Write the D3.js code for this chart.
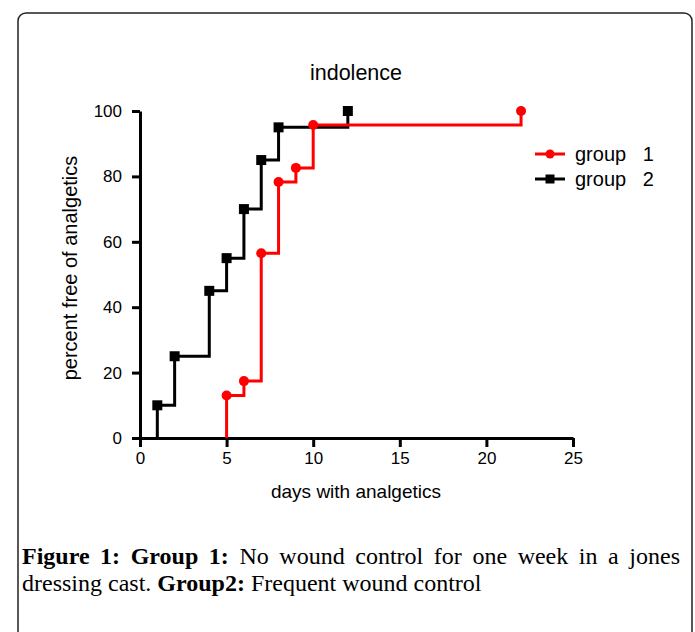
<!DOCTYPE html>
<html>
<head>
<meta charset="utf-8">
<script src="https://cdn.jsdelivr.net/npm/d3@7"></script>
<style>
  body { margin: 0; background: #fff; }
  svg { display: block; }
</style>
</head>
<body>
<script>
var width = 695;
var height = 632;

// days / percent free of analgetics
var group1Days = [5, 6, 7, 8, 9, 10, 22];
var group1Pct = [13, 17.4, 56.5, 78.3, 82.6, 95.7, 100];
var group2Days = [1, 2, 4, 5, 6, 7, 8, 12];
var group2Pct = [10, 25, 45, 55, 70, 85, 95, 100];
var xTicks = [0, 5, 10, 15, 20, 25];
var yTicks = [0, 20, 40, 60, 80, 100];
var legendLabels = ['group   1', 'group   2'];

var svg = d3.select('body')
            .append('svg')
            .attr('width', width)
            .attr('height', height);

// frame
svg.append('rect')
    .attr('x', 18).attr('y', 13)
    .attr('width', 674).attr('height', 640)
    .attr('rx', 8)
    .attr('fill', 'none')
    .attr('stroke', '#222')
    .attr('stroke-width', 1.5);

var xScale = d3.scaleLinear().domain([0, 25]).range([140, 573]);
var yScale = d3.scaleLinear().domain([0, 100]).range([438, 111]);

var font = "'Liberation Sans', Arial, sans-serif";

svg.append('text')
    .attr('x', 356).attr('y', 80)
    .attr('text-anchor', 'middle')
    .style('font-family', font)
    .style('font-size', '21.5px')
    .text('indolence');

var yAxis = svg.append('g')
    .attr('transform', 'translate(' + xScale(0) + ',0)')
    .call(d3.axisLeft(yScale).tickValues(yTicks).tickSize(8).tickSizeOuter(0).tickPadding(10));

var xAxis = svg.append('g')
    .attr('transform', 'translate(0,' + yScale(0) + ')')
    .call(d3.axisBottom(xScale).tickValues(xTicks).tickSize(9).tickSizeOuter(0).tickPadding(5));

[xAxis, yAxis].forEach(function (g) {
  g.selectAll('path, line').attr('stroke', '#000').attr('stroke-width', 3);
  g.selectAll('text').style('font-family', font).style('font-size', '17px').attr('fill', '#000');
});

svg.append('text')
    .attr('x', 356).attr('y', 498)
    .attr('text-anchor', 'middle')
    .style('font-family', font)
    .style('font-size', '19px')
    .text('days with analgetics');

svg.append('text')
    .attr('transform', 'translate(77,' + 268 + ') rotate(-90)')
    .attr('text-anchor', 'middle')
    .style('font-family', font)
    .style('font-size', '20px')
    .text('percent free of analgetics');

function stepPoints(days, pct) {
  var pts = [[days[0], 0]];
  days.forEach(function (d, i) { pts.push([d, pct[i]]); });
  return pts;
}

var line = d3.line()
    .x(function (d) { return xScale(d[0]); })
    .y(function (d) { return yScale(d[1]); })
    .curve(d3.curveStepAfter);

var series = [
  { days: group2Days, pct: group2Pct, color: '#000', shape: 'square' },
  { days: group1Days, pct: group1Pct, color: '#ff0000', shape: 'circle' }
];

series.forEach(function (s) {
  svg.append('path')
      .attr('d', line(stepPoints(s.days, s.pct)))
      .attr('fill', 'none')
      .attr('stroke', s.color)
      .attr('stroke-width', 3);

  var pts = s.days.map(function (d, i) { return [d, s.pct[i]]; });
  if (s.shape === 'square') {
    svg.selectAll(null).data(pts).enter().append('rect')
        .attr('x', function (d) { return xScale(d[0]) - 5; })
        .attr('y', function (d) { return yScale(d[1]) - 5; })
        .attr('width', 10).attr('height', 10)
        .attr('fill', s.color);
  } else {
    svg.selectAll(null).data(pts).enter().append('circle')
        .attr('cx', function (d) { return xScale(d[0]); })
        .attr('cy', function (d) { return yScale(d[1]); })
        .attr('r', 5)
        .attr('fill', s.color);
  }
});

// legend
var legend = [
  { label: legendLabels[0], color: '#ff0000', shape: 'circle', y: 154 },
  { label: legendLabels[1], color: '#000', shape: 'square', y: 179 }
];
legend.forEach(function (l) {
  svg.append('line')
      .attr('x1', 535).attr('x2', 565)
      .attr('y1', l.y).attr('y2', l.y)
      .attr('stroke', l.color).attr('stroke-width', 3);
  if (l.shape === 'circle') {
    svg.append('circle').attr('cx', 550).attr('cy', l.y).attr('r', 4.5).attr('fill', l.color);
  } else {
    svg.append('rect').attr('x', 545.5).attr('y', l.y - 4.5).attr('width', 9).attr('height', 9).attr('fill', l.color);
  }
  svg.append('text')
      .attr('x', 575).attr('y', l.y + 7)
      .style('font-family', font)
      .style('font-size', '20px')
      .attr('xml:space', 'preserve')
      .text(l.label);
});

// caption, first line justified
var serif = "'Liberation Serif', 'Times New Roman', serif";
var capSize = '24px';
var line1 = [
  ['Figure', true], ['1:', true], ['Group', true], ['1:', true], ['No', false], ['wound', false],
  ['control', false], ['for', false], ['one', false], ['week', false], ['in', false], ['a', false], ['jones', false]
];
var line2 = [['dressing cast. ', false], ['Group2:', true], [' Frequent wound control', false]];

var capLeft = 22, capRight = 680;
var words = svg.selectAll(null).data(line1).enter().append('text')
    .attr('y', 564)
    .style('font-family', serif)
    .style('font-size', capSize)
    .style('font-weight', function (d) { return d[1] ? 'bold' : 'normal'; })
    .text(function (d) { return d[0]; });
var widths = [];
words.each(function () { widths.push(this.getComputedTextLength()); });
var gap = (capRight - capLeft - d3.sum(widths)) / (widths.length - 1);
var cx = capLeft;
words.attr('x', function (d, i) { var x = cx; cx += widths[i] + gap; return x; });

var t2 = svg.append('text')
    .attr('x', capLeft).attr('y', 591)
    .attr('xml:space', 'preserve')
    .style('font-family', serif)
    .style('font-size', capSize);
line2.forEach(function (d) {
  t2.append('tspan').style('font-weight', d[1] ? 'bold' : 'normal').text(d[0]);
});
</script>
</body>
</html>
